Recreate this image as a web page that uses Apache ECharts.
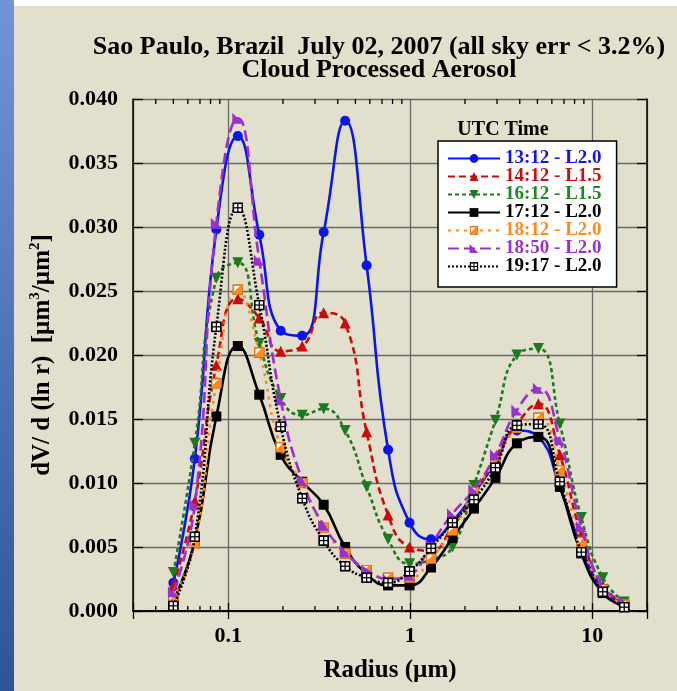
<!DOCTYPE html>
<html>
<head>
<meta charset="utf-8">
<script src="https://cdn.jsdelivr.net/npm/echarts@6/dist/echarts.min.js"></script>
<style>
  html, body { margin: 0; padding: 0; background: #e2dfcc; }
  #chart { width: 677px; height: 691px; }
</style>
</head>
<body>
<div id="chart"></div>
<script>
// Size-distribution radius bins (µm)
const radius = [0.05, 0.0656, 0.0861, 0.113, 0.1482, 0.1944, 0.2551, 0.3347, 0.4391, 0.5762, 0.756,
                0.9919, 1.3014, 1.7076, 2.2405, 2.9397, 3.8571, 5.0608, 6.6402, 8.7125, 11.4316, 15.0];

// dV/d(ln r) per retrieval time
const t1312 = [0.0022, 0.0119, 0.0298, 0.0371, 0.0294, 0.0219, 0.0215, 0.0296, 0.0383, 0.0270, 0.0126,
               0.0069, 0.0056, 0.0070, 0.0092, 0.0116, 0.0141, 0.0136, 0.0097, 0.0050, 0.0017, 0.0006];
const t1412 = [0.0020, 0.0086, 0.0192, 0.0244, 0.0229, 0.0203, 0.0207, 0.0233, 0.0225, 0.0140, 0.0075,
               0.0050, 0.0047, 0.0066, 0.0090, 0.0120, 0.0146, 0.0162, 0.0122, 0.0060, 0.0020, 0.0006];
const t1612 = [0.0030, 0.0131, 0.0260, 0.0272, 0.0209, 0.0166, 0.0153, 0.0158, 0.0141, 0.0097, 0.0056,
               0.0037, 0.0040, 0.0050, 0.0098, 0.0149, 0.0200, 0.0205, 0.0146, 0.0073, 0.0026, 0.0007];
const t1712 = [0.0008, 0.0055, 0.0152, 0.0207, 0.0169, 0.0122, 0.0101, 0.0083, 0.0050, 0.0029, 0.0020,
               0.0020, 0.0034, 0.0057, 0.0080, 0.0104, 0.0131, 0.0136, 0.0097, 0.0045, 0.0014, 0.0004];
const t1812 = [0.0010, 0.0053, 0.0178, 0.0251, 0.0202, 0.0128, 0.0100, 0.0065, 0.0045, 0.0032, 0.0026,
               0.0026, 0.0041, 0.0063, 0.0093, 0.0117, 0.0143, 0.0151, 0.0110, 0.0054, 0.0017, 0.0005];
const t1850 = [0.0015, 0.0083, 0.0303, 0.0385, 0.0274, 0.0165, 0.0102, 0.0067, 0.0046, 0.0032, 0.0025,
               0.0028, 0.0052, 0.0076, 0.0095, 0.0122, 0.0157, 0.0174, 0.0134, 0.0066, 0.0019, 0.0007];
const t1917 = [0.0004, 0.0058, 0.0222, 0.0315, 0.0239, 0.0144, 0.0088, 0.0055, 0.0035, 0.0026, 0.0022,
               0.0031, 0.0049, 0.0069, 0.0087, 0.0112, 0.0145, 0.0146, 0.0101, 0.0046, 0.0015, 0.0003];

const seriesNames = ['13:12 - L2.0', '14:12 - L1.5', '16:12 - L1.5', '17:12 - L2.0',
                     '18:12 - L2.0', '18:50 - L2.0', '19:17 - L2.0'];

// Minor ticks on the log axis (2..9 within each decade)
const minorTickValues = [0.04, 0.05, 0.06, 0.07, 0.08, 0.09,
                         0.2, 0.3, 0.4, 0.5, 0.6, 0.7, 0.8, 0.9,
                         2, 3, 4, 5, 6, 7, 8, 9];

const yTickLabels = ['0.000', '0.005', '0.010', '0.015', '0.020', '0.025', '0.030', '0.035', '0.040'];

const SERIF = "'Liberation Serif', 'Times New Roman', serif";

function svgSymbol(svg) {
  return 'image://data:image/svg+xml;charset=utf-8,' + encodeURIComponent(svg);
}
const orangeSquare = svgSymbol(
  "<svg xmlns='http://www.w3.org/2000/svg' width='12' height='12'>" +
  "<rect x='0.5' y='0.5' width='11' height='11' fill='#ff8a1c' stroke='#d06a10' stroke-width='1'/>" +
  "<path d='M2 2 H8 L2 8 Z' fill='#ffffff'/></svg>");
const gridSquare = svgSymbol(
  "<svg xmlns='http://www.w3.org/2000/svg' width='12' height='12'>" +
  "<rect x='0' y='0' width='12' height='12' fill='#000'/>" +
  "<rect x='2' y='2' width='3.3' height='3.3' fill='#fff'/>" +
  "<rect x='6.7' y='2' width='3.3' height='3.3' fill='#fff'/>" +
  "<rect x='2' y='6.7' width='3.3' height='3.3' fill='#fff'/>" +
  "<rect x='6.7' y='6.7' width='3.3' height='3.3' fill='#fff'/></svg>");

const styles = [
  { data: t1312, color: '#0a14ee', text: '#1414e6', type: 'solid',   symbol: 'circle', size: 10 },
  { data: t1412, color: '#cc0a0a', text: '#c81010', type: [7, 4],    symbol: 'triangle', size: 11 },
  { data: t1612, color: '#1c7a1c', text: '#1f8a24', type: [4, 3],    symbol: 'path://M0,0 L10,0 L5,10 Z', size: 11 },
  { data: t1712, color: '#000000', text: '#000000', type: 'solid',   symbol: 'rect', size: 10 },
  { data: t1812, color: '#ff8a1c', text: '#ff8a1c', type: [3, 5],    symbol: orangeSquare, size: 11 },
  { data: t1850, color: '#9a30d0', text: '#9a30d0', type: [11, 5],   symbol: 'path://M0,0 L0,10 L10,10 Z', size: 11 },
  { data: t1917, color: '#000000', text: '#000000', type: [2, 2],    symbol: gridSquare, size: 11 }
];

function isDecade(v) {
  const e = Math.log10(v);
  return Math.abs(e - Math.round(e)) < 1e-6;
}

const lineSeries = styles.map((s, i) => ({
  name: seriesNames[i],
  type: 'line',
  data: radius.map((r, k) => [r, s.data[k]]),
  smooth: 0.5,
  symbol: s.symbol,
  symbolSize: s.size,
  showAllSymbol: true,
  lineStyle: { color: s.color, width: 2.6, type: s.type },
  itemStyle: { color: s.color },
  emphasis: { disabled: true },
  z: 3 + i
}));

// Short inward minor ticks along the bottom and top axes
const minorTicks = {
  type: 'custom',
  silent: true,
  xAxisIndex: 0,
  yAxisIndex: 0,
  clip: false,
  z: 20,
  data: minorTickValues.map(v => [v, 0]),
  renderItem: function (params, api) {
    const b = api.coord([api.value(0), 0]);
    const t = api.coord([api.value(0), 0.04]);
    return {
      type: 'group',
      children: [
        { type: 'line', shape: { x1: b[0], y1: b[1], x2: b[0], y2: b[1] - 5 },
          style: { stroke: '#000', lineWidth: 1.3 } },
        { type: 'line', shape: { x1: t[0], y1: t[1], x2: t[0], y2: t[1] + 5 },
          style: { stroke: '#000', lineWidth: 1.3 } }
      ]
    };
  }
};

const chart = echarts.init(document.getElementById('chart'), null, { renderer: 'canvas' });

chart.setOption({
  animation: false,
  backgroundColor: '#e2dfcc',
  textStyle: { fontFamily: SERIF },
  graphic: [
    { type: 'rect', left: 0, top: 0, shape: { width: 14, height: 691 }, silent: true,
      style: { fill: new echarts.graphic.LinearGradient(0, 0, 0, 1, [
        { offset: 0, color: '#7394d4' }, { offset: 1, color: '#2c5597' }]) } },
    { type: 'rect', left: 14, top: 0, shape: { width: 663, height: 6 }, silent: true,
      style: { fill: '#ffffff' } }
  ],
  title: [
    {
      text: 'Sao Paulo, Brazil  July 02, 2007 (all sky err < 3.2%)\nCloud Processed Aerosol',
      left: 379, top: 36, padding: 0, textAlign: 'center',
      textStyle: { fontFamily: SERIF, fontSize: 26, fontWeight: 'bold', color: '#000', lineHeight: 23 }
    },
    {
      text: 'UTC Time',
      left: 503, top: 120, padding: 0, textAlign: 'center',
      textStyle: { fontFamily: SERIF, fontSize: 20, fontWeight: 'bold', color: '#000' }
    }
  ],
  legend: {
    orient: 'vertical',
    left: 438, top: 141,
    padding: [8, 15, 11, 9],
    backgroundColor: '#ffffff',
    borderColor: '#000',
    borderWidth: 1.5,
    borderRadius: 0,
    itemWidth: 52, itemHeight: 11, itemGap: -1,
    selectedMode: false,
    textStyle: { fontFamily: SERIF, fontSize: 19, fontWeight: 'bold', lineHeight: 18 },
    data: seriesNames.map((n, i) => ({ name: n, textStyle: { color: styles[i].text } }))
  },
  grid: { left: 133, right: 30, top: 99, bottom: 80, show: false },
  xAxis: [
    {
      type: 'log', logBase: 10, min: 0.03, max: 20, position: 'bottom',
      axisLine: { show: true, lineStyle: { color: '#000', width: 1.5 } },
      axisTick: { show: true, inside: true, length: 8, lineStyle: { color: '#000', width: 1.3 } },
      axisLabel: {
        margin: 14, fontFamily: SERIF, fontSize: 22, fontWeight: 'bold', color: '#000',
        formatter: v => (isDecade(v) ? (v >= 1 ? String(Math.round(v)) : String(Number(v.toPrecision(1)))) : '')
      },
      splitLine: { show: true, lineStyle: { color: '#6a6a6a', width: 1.3 } },
      name: 'Radius (µm)', nameLocation: 'middle', nameGap: 47,
      nameTextStyle: { fontFamily: SERIF, fontSize: 25, fontWeight: 'bold', color: '#000' }
    },
    {
      type: 'log', logBase: 10, min: 0.03, max: 20, position: 'top',
      axisLine: { show: true, lineStyle: { color: '#000', width: 1.5 } },
      axisTick: { show: true, inside: true, length: 8, lineStyle: { color: '#000', width: 1.3 } },
      axisLabel: { show: false },
      splitLine: { show: false }
    }
  ],
  yAxis: [
    {
      type: 'value', min: 0, max: 0.04, interval: 0.005, position: 'left',
      axisLine: { show: true, lineStyle: { color: '#000', width: 1.5 } },
      axisTick: { show: true, inside: true, length: 10, lineStyle: { color: '#000', width: 1.3 } },
      axisLabel: {
        margin: 15, fontFamily: SERIF, fontSize: 22, fontWeight: 'bold', color: '#000',
        formatter: (v) => yTickLabels[Math.round(v / 0.005)]
      },
      splitLine: { show: true, lineStyle: { color: '#6a6a6a', width: 1.3 } },
      name: '{n|dV/ d (ln r)  [µm}{s|3}{n|/µm}{s|2}{n|]}',
      nameLocation: 'middle', nameGap: 75, nameRotate: 90,
      nameTextStyle: {
        rich: {
          n: { fontFamily: SERIF, fontSize: 25, fontWeight: 'bold', color: '#000', lineHeight: 30 },
          s: { fontFamily: SERIF, fontSize: 15, fontWeight: 'bold', color: '#000', verticalAlign: 'top', lineHeight: 30 }
        }
      }
    },
    {
      type: 'value', min: 0, max: 0.04, interval: 0.005, position: 'right',
      axisLine: { show: true, lineStyle: { color: '#000', width: 1.5 } },
      axisTick: { show: true, inside: true, length: 10, lineStyle: { color: '#000', width: 1.3 } },
      axisLabel: { show: false },
      splitLine: { show: false }
    }
  ],
  series: lineSeries.concat([minorTicks])
});
</script>
</body>
</html>
